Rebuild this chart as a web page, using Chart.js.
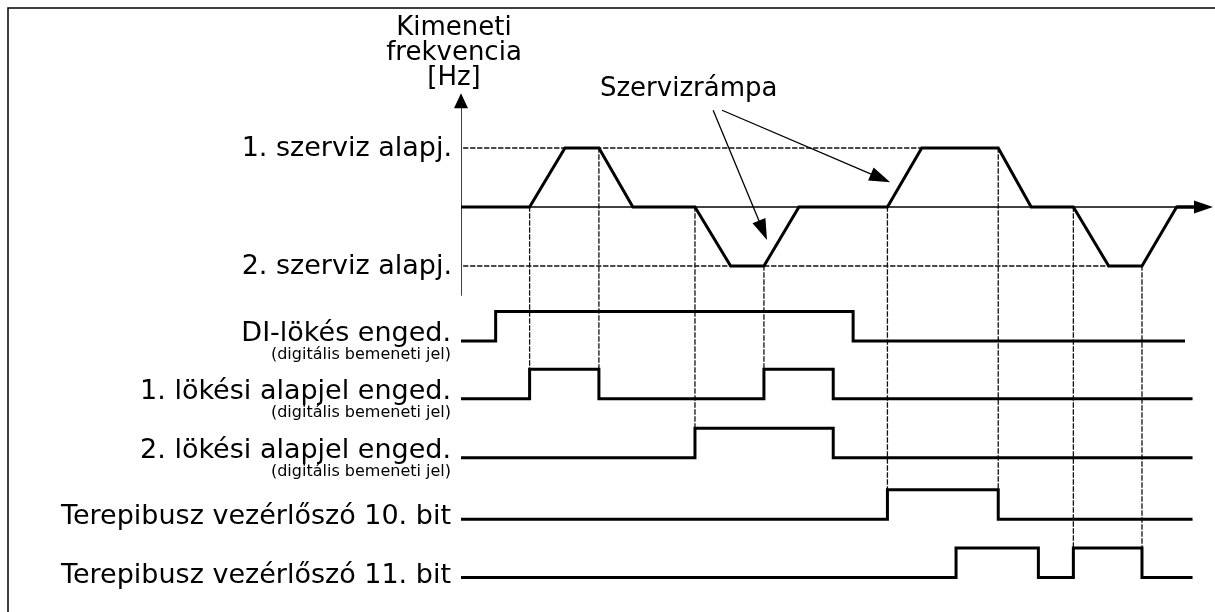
<!DOCTYPE html>
<html>
<head>
<meta charset="utf-8">
<script src="https://cdn.jsdelivr.net/npm/chart.js@4/dist/chart.umd.min.js"></script>
<style>
  html, body { margin: 0; padding: 0; background: #fff; }
  canvas { display: block; }
</style>
</head>
<body>
<canvas id="idodiagram" width="1215" height="612"></canvas>
<script>
// Kimeneti frekvencia (idő egység, szint: 1 = 1. szerviz, -1 = 2. szerviz)
const freqTimes  = [0, 2.0, 3.03, 4.02, 5.01, 6.82, 7.86, 8.83, 9.85, 12.43, 13.43, 15.66, 16.62, 17.85, 18.88, 19.85, 20.86, 21.37];
const freqValues = [0, 0,   1,    1,    0,    0,    -1,   -1,   0,    0,     1,     1,     0,     0,     -1,    -1,    0,     0];

const levelNames  = ['1. szerviz alapj.', '2. szerviz alapj.'];
const levelValues = [1, -1];
const levelEnds   = [13.43, 18.88];

// Digitális jelek
const signalLabels = ['DI-lökés enged.', '1. lökési alapjel enged.', '2. lökési alapjel enged.',
                      'Terepibusz vezérlőszó 10. bit', 'Terepibusz vezérlőszó 11. bit'];
const signalSubLabels = ['(digitális bemeneti jel)', '(digitális bemeneti jel)', '(digitális bemeneti jel)', '', ''];
const signalBase  = [-2.27, -3.25, -4.25, -5.29, -6.28];
const signalEdges = [[1.01, 11.43], [2.0, 4.02, 8.83, 10.85], [6.82, 10.85], [12.43, 15.66], [14.43, 16.83, 17.85, 19.85]];
const signalEnd   = [21.06, 21.28, 21.28, 21.28, 21.28];
const signalHigh  = 0.5;

// Szaggatott segédvonalak
const guideTimes  = [2.0, 4.02, 6.82, 8.83, 12.43, 15.66, 17.85, 19.85];
const guideFrom   = [0, 1, 0, -1, 0, 1, 0, -1];
const guideSignal = [1, 1, 2, 1, 3, 3, 4, 4];

// Szervizrámpa felirat és nyilak
const rampText = 'Szervizrámpa';
const rampTextPos = { x: 4.05, y: 1.88 };
const rampArrowFrom = [{ x: 7.35, y: 1.64 }, { x: 7.61, y: 1.64 }];
const rampArrowTo   = [{ x: 8.92, y: -0.56 }, { x: 12.51, y: 0.42 }];

const axisTitle = ['Kimeneti', 'frekvencia', '[Hz]'];
const axisTop = 1.93, axisBottom = -1.49, axisEnd = 21.92;

function stepPoints(edges, base, end) {
    const pts = [{ x: 0, y: base }];
    let level = 0;
    edges.forEach(t => {
        pts.push({ x: t, y: base + level * signalHigh });
        level = 1 - level;
        pts.push({ x: t, y: base + level * signalHigh });
    });
    pts.push({ x: end, y: base + level * signalHigh });
    return pts;
}

const guidePoints = [];
levelValues.forEach((v, i) => {
    guidePoints.push({ x: 0.08, y: v }, { x: levelEnds[i], y: v }, { x: levelEnds[i], y: null });
});
guideTimes.forEach((t, i) => {
    guidePoints.push({ x: t, y: guideFrom[i] },
                     { x: t, y: signalBase[guideSignal[i]] + signalHigh },
                     { x: t, y: null });
});

const datasets = [];
datasets.push({
    data: freqTimes.map((t, i) => ({ x: t, y: freqValues[i] })),
    borderColor: '#000', borderWidth: 3, order: 0
});
signalEdges.forEach((edges, i) => {
    datasets.push({
        data: stepPoints(edges, signalBase[i], signalEnd[i]),
        borderColor: '#000', borderWidth: 3, order: 0
    });
});
datasets.push({
    data: [{ x: 0, y: 0 }, { x: 21.37, y: 0 }],
    borderColor: '#000', borderWidth: 1.5, order: 1
});
datasets.push({
    data: [{ x: 0, y: axisBottom }, { x: 0, y: axisTop - 0.2 }],
    borderColor: '#000', borderWidth: 1.5, order: 1
});
datasets.push({
    data: guidePoints,
    borderColor: '#111', borderWidth: 1.3, borderDash: [4, 3], spanGaps: false, order: 2
});

function arrowHead(ctx, x1, y1, x2, y2, len, half) {
    const a = Math.atan2(y2 - y1, x2 - x1);
    ctx.beginPath();
    ctx.moveTo(x2, y2);
    ctx.lineTo(x2 - len * Math.cos(a) + half * Math.sin(a), y2 - len * Math.sin(a) - half * Math.cos(a));
    ctx.lineTo(x2 - len * Math.cos(a) - half * Math.sin(a), y2 - len * Math.sin(a) + half * Math.cos(a));
    ctx.closePath();
    ctx.fill();
}

const rajzPlugin = {
    id: 'rajz',
    afterDraw(chart) {
        const ctx = chart.ctx;
        const xs = chart.scales.x, ys = chart.scales.y;
        const left = chart.chartArea.left;
        ctx.save();
        ctx.fillStyle = '#000';
        ctx.strokeStyle = '#000';

        // keret
        ctx.lineWidth = 1.5;
        ctx.beginPath();
        ctx.moveTo(8, 612); ctx.lineTo(8, 8); ctx.lineTo(1215, 8);
        ctx.stroke();

        // tengely nyilak
        const x0 = xs.getPixelForValue(0);
        arrowHead(ctx, x0, ys.getPixelForValue(0), x0, ys.getPixelForValue(axisTop), 15, 7);
        const y0 = ys.getPixelForValue(0);
        ctx.fillRect(xs.getPixelForValue(20.86), y0 - 1.5, xs.getPixelForValue(21.4) - xs.getPixelForValue(20.86), 3);
        arrowHead(ctx, x0, y0, xs.getPixelForValue(axisEnd), y0, 19, 6.5);

        // tengely felirat
        ctx.font = '26px "DejaVu Sans"';
        ctx.textAlign = 'center';
        ctx.textBaseline = 'alphabetic';
        const cx = left - 7;
        ctx.fillText(axisTitle[0], cx, 35);
        ctx.fillText(axisTitle[1], cx, 60);
        ctx.fillText(axisTitle[2], cx, 85);

        // szint feliratok
        ctx.textAlign = 'right';
        ctx.font = '27px "DejaVu Sans"';
        levelNames.forEach((name, i) => {
            ctx.fillText(name, left - 9, ys.getPixelForValue(levelValues[i]) + 8);
        });

        // jel feliratok
        signalLabels.forEach((name, i) => {
            const yb = ys.getPixelForValue(signalBase[i]);
            if (signalSubLabels[i]) {
                ctx.font = '27px "DejaVu Sans"';
                ctx.fillText(name, left - 10, yb);
                ctx.font = '16px "DejaVu Sans"';
                ctx.fillText(signalSubLabels[i], left - 10, yb + 18);
            } else {
                ctx.font = '27px "DejaVu Sans"';
                ctx.fillText(name, left - 10, yb + 5);
            }
        });

        // Szervizrámpa
        ctx.font = '26px "DejaVu Sans"';
        ctx.textAlign = 'left';
        ctx.fillText(rampText, xs.getPixelForValue(rampTextPos.x), ys.getPixelForValue(rampTextPos.y));
        ctx.lineWidth = 1.3;
        rampArrowFrom.forEach((p, i) => {
            const q = rampArrowTo[i];
            const x1 = xs.getPixelForValue(p.x), y1 = ys.getPixelForValue(p.y);
            const x2 = xs.getPixelForValue(q.x), y2 = ys.getPixelForValue(q.y);
            const a = Math.atan2(y2 - y1, x2 - x1);
            ctx.beginPath();
            ctx.moveTo(x1, y1);
            ctx.lineTo(x2 - 15 * Math.cos(a), y2 - 15 * Math.sin(a));
            ctx.stroke();
            arrowHead(ctx, x1, y1, x2, y2, 21, 7);
        });
        ctx.restore();
    }
};

new Chart(document.getElementById('idodiagram'), {
    type: 'line',
    data: { datasets: datasets },
    options: {
        responsive: false,
        animation: false,
        devicePixelRatio: 1,
        layout: { padding: { left: 461, right: 2, top: 0, bottom: 0 } },
        elements: { point: { radius: 0 }, line: { tension: 0, fill: false, borderCapStyle: 'square', borderJoinStyle: 'miter' } },
        plugins: { legend: { display: false }, tooltip: { enabled: false } },
        scales: {
            x: { type: 'linear', min: 0, max: axisEnd, display: false },
            y: { type: 'linear', min: -6.864, max: 3.5085, display: false }
        }
    },
    plugins: [rajzPlugin]
});
</script>
</body>
</html>
